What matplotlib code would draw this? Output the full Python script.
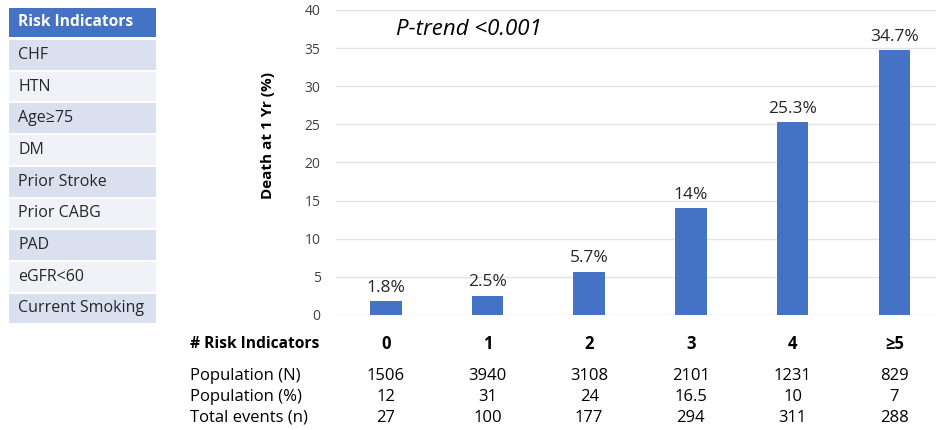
import numpy as np
import matplotlib.pyplot as plt
from matplotlib.patches import Rectangle
from matplotlib.transforms import blended_transform_factory

plt.rcParams['font.family'] = ['Open Sans', 'DejaVu Sans']

# chart data
risk_indicators = ['CHF', 'HTN', 'Age\u226575', 'DM', 'Prior Stroke', 'Prior CABG',
                   'PAD', 'eGFR<60', 'Current Smoking']
categories = ['0', '1', '2', '3', '4', '\u22655']
death_pct = [1.8, 2.5, 5.7, 14, 25.3, 34.7]
bar_labels = ['1.8%', '2.5%', '5.7%', '14%', '25.3%', '34.7%']
population_n = ['1506', '3940', '3108', '2101', '1231', '829']
population_pct = ['12', '31', '24', '16.5', '10', '7']
total_events = ['27', '100', '177', '294', '311', '288']

W, H = 937, 430
fig = plt.figure(figsize=(W / 100, H / 100), dpi=100)


def fx(px):
    return px / W


def fy(py):
    return 1 - py / H


# left table of risk indicators
blue = '#4472C4'
fig.patches.append(Rectangle((fx(9), fy(37)), fx(147), 29 / H, transform=fig.transFigure,
                             facecolor=blue, edgecolor='none'))
fig.text(fx(18), fy(22.5), 'Risk Indicators', color='white', fontsize=11.2,
         fontweight='bold', va='center', ha='left')
row_h = 31.7
for i, name in enumerate(risk_indicators):
    top = 40 + i * row_h
    color = '#DAE0F0' if i % 2 == 0 else '#F0F2F8'
    fig.patches.append(Rectangle((fx(9), fy(top + row_h - 2)), fx(147), (row_h - 2) / H,
                                 transform=fig.transFigure, facecolor=color, edgecolor='none'))
    fig.text(fx(18), fy(top + (row_h - 2) / 2), name, color='#262626', fontsize=11.5,
             va='center', ha='left')

# bar chart
ax = fig.add_axes([fx(336), fy(315), fx(601), 305 / H])
x = np.arange(len(categories))
ax.bar(x, death_pct, width=0.31, color=blue, zorder=3)
ax.set_xlim(-0.49, 5.42)
ax.set_ylim(0, 40)
ax.set_yticks(np.arange(0, 41, 5))
ax.set_xticks([])
ax.grid(axis='y', color='#E3E3E3', linewidth=1, zorder=0)
for s in ax.spines.values():
    s.set_visible(False)
ax.tick_params(axis='y', length=0, pad=11, labelsize=10, labelcolor='#404040')
ax.set_ylabel('Death at 1 Yr (%)', fontsize=11, fontweight='bold', color='black')
ax.yaxis.set_label_coords(-0.101, 0.587)

for xi, v, lab in zip(x, death_pct, bar_labels):
    ax.annotate(lab, (xi, v), xytext=(0, 4), textcoords='offset points',
                ha='center', va='bottom', fontsize=12.5, color='#262626')

ax.text(0.1, 37.4, 'P-trend <0.001', fontsize=16, style='italic', color='black',
        ha='left', va='center')

# bottom table aligned with categories
trans = blended_transform_factory(ax.transData, fig.transFigure)
rows = [('# Risk Indicators', categories, 344, 'bold', 11.2),
        ('Population (N)', population_n, 376, 'normal', 12),
        ('Population (%)', population_pct, 397, 'normal', 12),
        ('Total events (n)', total_events, 418, 'normal', 12)]
for label, vals, py, weight, size in rows:
    fig.text(fx(190), fy(py), label, fontsize=size, fontweight=weight, color='black',
             ha='left', va='center')
    for xi, v in zip(x, vals):
        ax.text(xi, fy(py), v, transform=trans, fontsize=12, fontweight=weight,
                color='black', ha='center', va='center', clip_on=False)

fig.savefig('out.png', dpi=100)
